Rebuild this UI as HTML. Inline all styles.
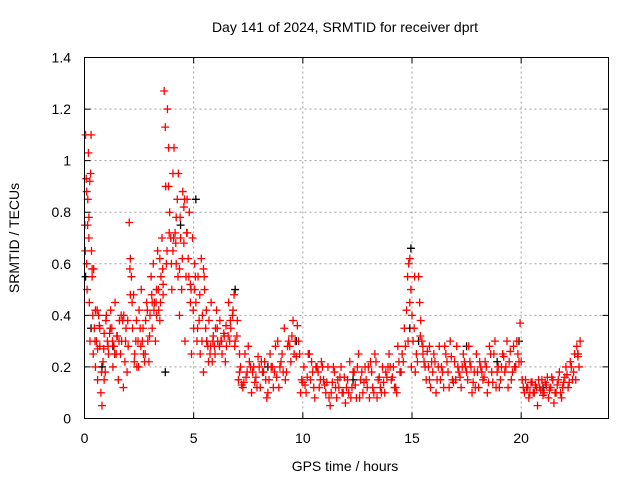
<!DOCTYPE html>
<html><head><meta charset="utf-8"><style>
html,body{margin:0;padding:0;background:#fff}
svg{display:block;font-family:"Liberation Sans",sans-serif}
</style></head><body>
<svg id="chart" width="640" height="480" viewBox="0 0 640 480">
<text x="345" y="32" font-size="14" text-anchor="middle">Day 141 of 2024, SRMTID for receiver dprt</text>
<text transform="translate(19,238) rotate(-90)" font-size="14" text-anchor="middle">SRMTID / TECUs</text>
<text x="345" y="471" font-size="14" text-anchor="middle">GPS time / hours</text>
<g id="grid"></g><g id="ticks"></g><g id="marks"></g>
<rect x="84.5" y="57.5" width="524" height="361" fill="none" stroke="#000" stroke-width="1"/>
</svg>
<script>
const xTicks=[0,5,10,15,20];
const yTicks=[0,0.2,0.4,0.6,0.8,1,1.2,1.4];
const yTickLabels=["0","0.2","0.4","0.6","0.8","1","1.2","1.4"];
const redT=[0.02,0.05,0.08,0.1,0.12,0.15,0.18,0.2,0.22,0.25,0.28,0.3,0.32,0.35,0.38,0.4,0.45,0.5,0.55,0.6,0.65,0.7,0.75,0.8,0.85,0.9,0.95,1.0,
1.05,1.1,1.2,1.25,1.3,1.35,1.4,1.5,1.55,1.6,1.65,1.7,1.8,1.85,1.9,1.95,2.0,
2.05,2.1,2.15,2.2,2.25,2.3,2.35,2.4,2.5,2.55,2.6,2.65,2.7,2.8,2.85,2.9,2.95,3.0,
3.05,3.1,3.15,3.2,3.25,3.3,3.35,3.4,3.45,3.5,3.55,3.6,3.65,3.7,3.72,3.75,3.8,3.85,3.9,3.95,4.0,
4.05,4.1,4.15,4.2,4.25,4.3,4.35,4.4,4.45,4.5,4.55,4.6,4.65,4.7,4.75,4.8,4.85,4.9,4.95,5.0,
5.05,5.1,5.15,5.2,5.3,5.35,5.4,5.45,5.5,5.55,5.6,5.7,5.75,5.8,5.9,5.95,6.0,
6.1,6.2,6.3,6.4,6.5,6.6,6.7,6.8,6.9,7.0,
7.05,7.15,7.25,7.35,7.45,7.55,7.65,7.75,7.85,7.95,8.05,8.15,8.25,8.35,8.45,8.55,8.65,8.75,8.85,8.95,9.05,9.15,9.25,9.35,9.45,9.55,9.65,9.75,9.85,9.95,
10.05,10.15,10.25,10.35,10.45,10.55,10.65,10.75,10.85,10.95,11.05,11.15,11.25,11.35,11.45,11.55,11.65,11.75,11.85,11.95,12.05,12.15,12.25,12.35,12.45,12.55,12.65,12.75,12.85,12.95,13.05,13.15,13.25,13.35,13.45,13.55,13.65,13.75,13.85,13.95,
14.05,14.15,14.25,14.35,14.45,14.55,14.65,14.75,14.8,14.85,14.9,14.95,15.0,15.05,15.1,15.2,15.3,15.35,15.4,15.45,15.55,15.65,15.75,15.85,15.95,
16.05,16.15,16.25,16.35,16.45,16.55,16.65,16.75,16.85,16.95,17.05,17.15,17.25,17.35,17.45,17.55,17.65,17.75,17.85,17.95,18.05,18.15,18.25,18.35,18.45,18.55,18.65,18.75,18.85,18.95,19.05,19.15,19.25,19.35,19.45,19.55,19.65,19.75,19.85,19.95,
20.05,20.15,20.25,20.35,20.45,20.55,20.65,20.75,20.85,20.95,21.05,21.15,21.25,21.35,21.45,21.55,21.65,21.75,21.85,21.95,22.05,22.15,22.25,22.35,22.45,22.55,22.65,22.7];
const redV=[0.75,1.1,0.93,0.6,0.5,0.85,1.03,0.78,0.45,0.3,0.95,1.1,0.65,0.55,0.4,0.25,0.35,0.2,0.3,0.15,0.4,0.28,0.1,0.05,0.22,0.33,0.18,0.4,
0.3,0.25,0.42,0.35,0.2,0.28,0.45,0.32,0.15,0.38,0.25,0.3,0.4,0.22,0.35,0.18,0.28,
0.76,0.62,0.55,0.35,0.48,0.25,0.3,0.2,0.42,0.35,0.5,0.3,0.25,0.38,0.45,0.3,0.22,0.4,
0.55,0.35,0.6,0.45,0.3,0.5,0.65,0.42,0.38,0.55,0.7,0.48,1.27,1.13,0.9,0.6,1.2,1.05,0.8,0.7,0.5,
0.95,1.05,0.72,0.6,0.85,0.95,0.4,0.7,0.5,0.88,0.82,0.3,0.55,0.85,0.62,0.8,0.45,0.25,0.7,0.35,
0.6,0.45,0.3,0.55,0.25,0.62,0.4,0.18,0.5,0.35,0.3,0.38,0.25,0.45,0.32,0.28,0.35,
0.3,0.38,0.25,0.32,0.28,0.45,0.35,0.42,0.3,0.38,
0.15,0.2,0.12,0.25,0.18,0.22,0.1,0.2,0.16,0.24,0.12,0.18,0.22,0.08,0.15,0.2,0.12,0.28,0.3,0.2,0.25,0.35,0.18,0.3,0.22,0.38,0.3,0.36,0.25,0.15,
0.2,0.1,0.25,0.15,0.18,0.08,0.2,0.12,0.22,0.15,0.1,0.2,0.05,0.14,0.18,0.08,0.12,0.2,0.1,0.06,0.15,0.22,0.12,0.18,0.08,0.25,0.15,0.1,0.2,0.12,0.08,0.18,0.1,0.22,0.15,0.12,0.2,0.1,0.16,0.25,
0.15,0.2,0.12,0.28,0.18,0.25,0.35,0.42,0.55,0.6,0.62,0.5,0.4,0.3,0.35,0.25,0.55,0.45,0.38,0.3,0.22,0.15,0.2,0.12,0.18,
0.22,0.15,0.28,0.2,0.12,0.25,0.18,0.3,0.15,0.22,0.28,0.18,0.12,0.25,0.2,0.15,0.22,0.1,0.18,0.25,0.12,0.2,0.15,0.22,0.1,0.28,0.18,0.25,0.12,0.2,0.15,0.25,0.18,0.3,0.22,0.15,0.28,0.2,0.25,0.37,
0.15,0.1,0.12,0.08,0.14,0.1,0.13,0.05,0.12,0.15,0.1,0.13,0.08,0.12,0.15,0.1,0.13,0.18,0.08,0.14,0.2,0.12,0.22,0.15,0.25,0.28,0.2,0.3];
const red2T=[0.1,0.2,0.35,0.5,0.6,0.7,0.9,1.15,1.45,1.75,2.1,2.45,2.75,3.1,3.3,3.45,3.6,3.85,4.05,4.2,4.35,4.55,4.7,4.85,5.05,5.25,5.45,5.65,5.85,6.05,6.25,6.45,6.65,6.85,7.1,7.3,7.5,7.7,7.9,8.1,8.3,8.5,8.7,8.9,9.1,9.3,9.5,9.7,9.9,10.1,10.4,10.7,11.0,11.3,11.6,11.9,12.2,12.5,12.8,13.1,13.4,13.7,14.0,14.3,14.6,14.9,15.15,15.5,15.8,16.1,16.4,16.7,17.0,17.3,17.6,17.9,18.2,18.5,18.8,19.1,19.4,19.7,20.0,20.3,20.6,20.9,21.2,21.5,21.8,22.1,22.4,22.6];
const red2V=[0.88,0.7,0.58,0.42,0.27,0.35,0.15,0.33,0.25,0.38,0.48,0.3,0.22,0.45,0.4,0.62,0.52,0.9,0.65,0.78,0.58,0.68,0.72,0.52,0.5,0.38,0.58,0.28,0.22,0.42,0.3,0.22,0.3,0.48,0.25,0.14,0.28,0.18,0.12,0.22,0.15,0.25,0.18,0.12,0.18,0.28,0.32,0.24,0.1,0.13,0.22,0.18,0.13,0.1,0.15,0.16,0.08,0.2,0.14,0.22,0.08,0.14,0.2,0.1,0.22,0.45,0.18,0.25,0.28,0.1,0.18,0.12,0.15,0.2,0.28,0.12,0.18,0.14,0.3,0.2,0.12,0.2,0.22,0.12,0.1,0.11,0.16,0.06,0.1,0.17,0.18,0.24];
const red3T=[0.04,0.14,0.24,0.42,0.48,0.58,0.68,0.78,0.88,0.98,1.08,1.18,1.28,1.38,1.48,1.58,1.68,1.78,1.88,1.98,2.08,2.18,2.28,2.38,2.48,2.58,2.68,2.78,2.88,2.98,3.08,3.18,3.28,3.38,3.48,3.58,3.78,3.88,3.98,4.08,4.18,4.28,4.38,4.48,4.58,4.68,4.78,4.88,4.98,5.08,5.18,5.28,5.38,5.48,5.58,5.68,5.78,5.88,5.98,6.08,6.18,6.28,6.38,6.48,6.58,6.68,6.78,6.88,6.98,
7.1,7.2,7.4,7.6,7.8,8.0,8.2,8.4,8.6,8.8,9.0,9.2,9.4,9.6,9.8,10.0,10.2,10.3,10.5,10.6,10.8,10.9,11.1,11.2,11.4,11.5,11.7,11.8,12.0,12.1,12.3,12.4,12.6,12.7,12.9,13.0,13.2,13.3,13.5,13.6,13.8,13.9,14.1,14.2,14.4,14.5,14.7,14.82,14.97,15.12,15.25,15.38,15.5,15.6,15.7,15.8,15.9,16.0,16.2,16.3,16.5,16.6,16.8,16.9,17.1,17.2,17.4,17.5,17.7,17.8,18.0,18.1,18.3,18.4,18.6,18.7,18.9,19.0,19.2,19.3,19.5,19.6,19.8,19.9,20.1,20.2,20.4,20.5,20.7,20.8,21.0,21.1,21.3,21.4,21.6,21.7,21.9,22.0,22.2,22.3,22.5,22.6];
const red3V=[0.65,0.75,0.92,0.58,0.3,0.42,0.36,0.18,0.27,0.38,0.28,0.35,0.3,0.25,0.32,0.3,0.4,0.12,0.3,0.38,0.58,0.45,0.22,0.38,0.2,0.28,0.35,0.25,0.42,0.32,0.48,0.42,0.45,0.5,0.45,0.58,0.65,0.72,0.6,0.7,0.68,0.55,0.78,0.62,0.85,0.72,0.55,0.5,0.42,0.55,0.35,0.48,0.3,0.55,0.42,0.22,0.28,0.3,0.25,0.35,0.28,0.3,0.33,0.36,0.32,0.38,0.4,0.28,0.32,
0.18,0.13,0.16,0.2,0.14,0.2,0.18,0.1,0.2,0.16,0.22,0.15,0.28,0.25,0.3,0.14,0.16,0.25,0.12,0.2,0.15,0.2,0.14,0.08,0.2,0.12,0.16,0.1,0.12,0.1,0.18,0.13,0.08,0.18,0.15,0.2,0.12,0.25,0.16,0.1,0.18,0.2,0.16,0.12,0.22,0.18,0.28,0.3,0.2,0.55,0.22,0.32,0.28,0.2,0.26,0.15,0.22,0.25,0.2,0.15,0.28,0.22,0.24,0.14,0.2,0.16,0.22,0.18,0.2,0.14,0.18,0.22,0.16,0.2,0.25,0.14,0.18,0.12,0.24,0.2,0.26,0.18,0.3,0.22,0.12,0.15,0.1,0.14,0.12,0.15,0.09,0.14,0.11,0.16,0.1,0.15,0.12,0.16,0.14,0.2,0.15,0.25,0.2,0.27];
const blackT=[0.05,0.3,0.8,1.3,3.7,4.4,5.1,5.6,6.9,8.4,9.7,12.3,14.95,14.9,15.3,17.5,18.9,19.9,21.0,22.6];
const blackV=[0.55,0.35,0.2,0.28,0.18,0.75,0.85,0.3,0.5,0.2,0.3,0.15,0.66,0.35,0.3,0.28,0.22,0.3,0.12,0.25];

const X0=84.5,X1=608.5,Y0=418.5,Y1=57.5;
const xs=t=>X0+(t/24)*(X1-X0);
const ys=v=>Y0-(v/1.4)*(Y0-Y1);
const NS="http://www.w3.org/2000/svg";
const grid=document.getElementById('grid'),ticks=document.getElementById('ticks'),marks=document.getElementById('marks');
function mk(tag,attrs,parent){const e=document.createElementNS(NS,tag);for(const k in attrs)e.setAttribute(k,attrs[k]);parent.appendChild(e);return e;}
xTicks.forEach(t=>{
  const x=xs(t);
  if(t>0){const g=mk('line',{x1:x,x2:x,y1:Y0,y2:Y1,stroke:'#a0a0a0','stroke-dasharray':'2,3'},grid);
  
  }
  const tk=mk('path',{d:`M${x},${Y0}v-6M${x},${Y1}v6`,stroke:'#000'},ticks);
  
  
  const lb=mk('text',{x:x,y:443,'font-size':14,'text-anchor':'middle'},ticks);lb.textContent=String(t);
  
  
});
yTicks.forEach((v,i)=>{
  const y=ys(v);
  if(v>0&&v<1.4){const g=mk('line',{x1:X0,x2:X1,y1:y,y2:y,stroke:'#a0a0a0','stroke-dasharray':'2,3'},grid);
  
  }
  const tk=mk('path',{d:`M${X0},${y}h6M${X1},${y}h-6`,stroke:'#000'},ticks);
  
  
  const lb=mk('text',{x:71,y:y+5,'font-size':14,'text-anchor':'end'},ticks);lb.textContent=yTickLabels[i];
  
  
});
function plus(t,v,color,name){
  const x=xs(t),y=ys(v);
  const p=mk('path',{d:`M${x-4},${y}h8M${x},${y-4}v8`,stroke:color,'stroke-width':1.3,fill:'none'},marks);
  
  
}
blackT.forEach((t,i)=>plus(t,blackV[i],'#000','point-black'));
redT.forEach((t,i)=>plus(t,redV[i],'#f00','point-red'));
red2T.forEach((t,i)=>plus(t,red2V[i],'#f00','point-red'));
red3T.forEach((t,i)=>plus(t,red3V[i],'#f00','point-red'));
</script>
</body></html>
